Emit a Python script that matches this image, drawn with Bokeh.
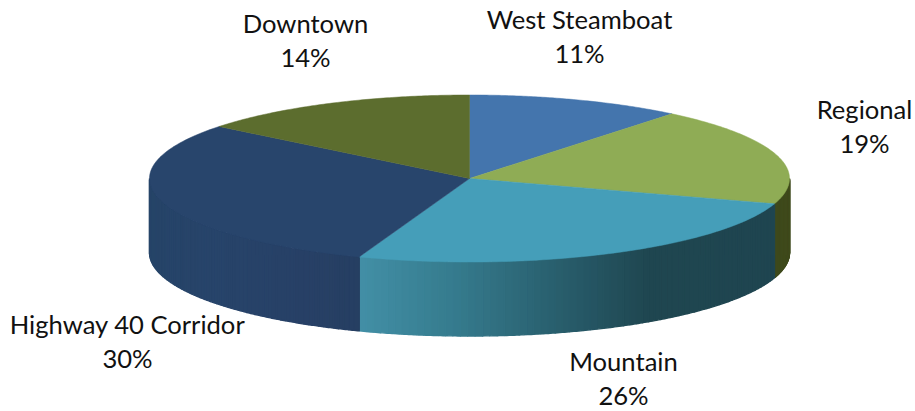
import numpy as np
from bokeh.plotting import figure
from bokeh.models import Range1d
from bokeh.core.properties import value
from bokeh.embed import file_html
from bokeh.resources import INLINE

# Data (clockwise from 12 o'clock)
categories = ["West Steamboat", "Regional", "Mountain", "Highway 40 Corridor", "Downtown"]
shares = [10.9, 19.0, 25.7, 30.1, 14.3]
share_labels = ["11%", "19%", "26%", "30%", "14%"]

# Styles
top_colors = ["#4475ad", "#8fac55", "#459eb9", "#28456c", "#5c6d2e"]
side_stops = {
    "Regional": [(0, "#3f4a1c"), (1, "#3f4a1c")],
    "Mountain": [(0.0, "#428fa6"), (0.24, "#357a8c"), (0.53, "#265866"), (0.70, "#1f4650"), (1.0, "#1f4550")],
    "Highway 40 Corridor": [(0.0, "#263f62"), (0.25, "#274066"), (0.7, "#27446a"), (1.0, "#264468")],
}
# Layout
W, H = 915, 411
CX, CY, RX, RY, DEPTH = 469, 178, 320, 83.5, 74
label_xy = {
    "West Steamboat": (579, 18), "Regional": (864, 108), "Mountain": (623, 360),
    "Highway 40 Corridor": (127, 323), "Downtown": (305, 22),
}
LINE_GAP = 34
FONT = "Lato"
FONT_SIZE = "25.6px"


def hex_rgb(c):
    return np.array([int(c[i:i + 2], 16) for i in (1, 3, 5)], float)


def ramp(stops, t):
    ts = [s[0] for s in stops]
    rgb = np.array([hex_rgb(s[1]) for s in stops])
    vals = [np.interp(t, ts, rgb[:, i]) for i in range(3)]
    return "#%02x%02x%02x" % tuple(int(round(v)) for v in vals)


def ex(a):
    return CX + RX * np.sin(a)


def ey(a):
    return CY - RY * np.cos(a)


p = figure(width=W, height=H, toolbar_location=None, output_backend="svg",
           x_range=Range1d(0, W), y_range=Range1d(H, 0),
           min_border=0, outline_line_color=None, background_fill_color="white")
p.axis.visible = False
p.grid.visible = False

edges = np.cumsum([0] + shares) / sum(shares) * 2 * np.pi

# Side wall: only the part of the rim that faces the viewer (90 to 270 degrees)
sx, sy, sc = [], [], []
for i, name in enumerate(categories):
    a0 = max(edges[i], np.pi / 2)
    a1 = min(edges[i + 1], 3 * np.pi / 2)
    if a1 <= a0 or name not in side_stops:
        continue
    n = 70
    cuts = np.linspace(a0, a1, n + 1)
    for k in range(n):
        t = abs(ex(a0) - ex((cuts[k] + cuts[k + 1]) / 2)) / max(abs(ex(a1) - ex(a0)), 1)
        if name == "Mountain":
            t = 1 - t
        arc = np.linspace(cuts[k], cuts[k + 1], 4)
        xs = np.r_[ex(arc), ex(arc[::-1])]
        ys = np.r_[ey(arc), ey(arc[::-1]) + DEPTH]
        sx.append(xs); sy.append(ys); sc.append(ramp(side_stops[name], t))
p.patches(sx, sy, fill_color=sc, line_color=sc, line_width=1.4)

# Top face
tx, ty = [], []
for i in range(len(categories)):
    arc = np.linspace(edges[i], edges[i + 1], 90)
    tx.append(np.r_[CX, ex(arc)])
    ty.append(np.r_[CY, ey(arc)])
p.patches(tx, ty, fill_color=top_colors, line_color=top_colors, line_width=0.5)

# Labels
lx = [label_xy[c][0] for c in categories]
ly = [label_xy[c][1] for c in categories]
common = dict(text_font=value(FONT), text_font_size=value(FONT_SIZE), text_color="#111111",
              text_align="center", text_baseline="middle")
p.text(lx, ly, text=categories, **common)
p.text(lx, [y + LINE_GAP for y in ly], text=share_labels, **common)

open("out.html", "w").write(file_html(p, INLINE))
